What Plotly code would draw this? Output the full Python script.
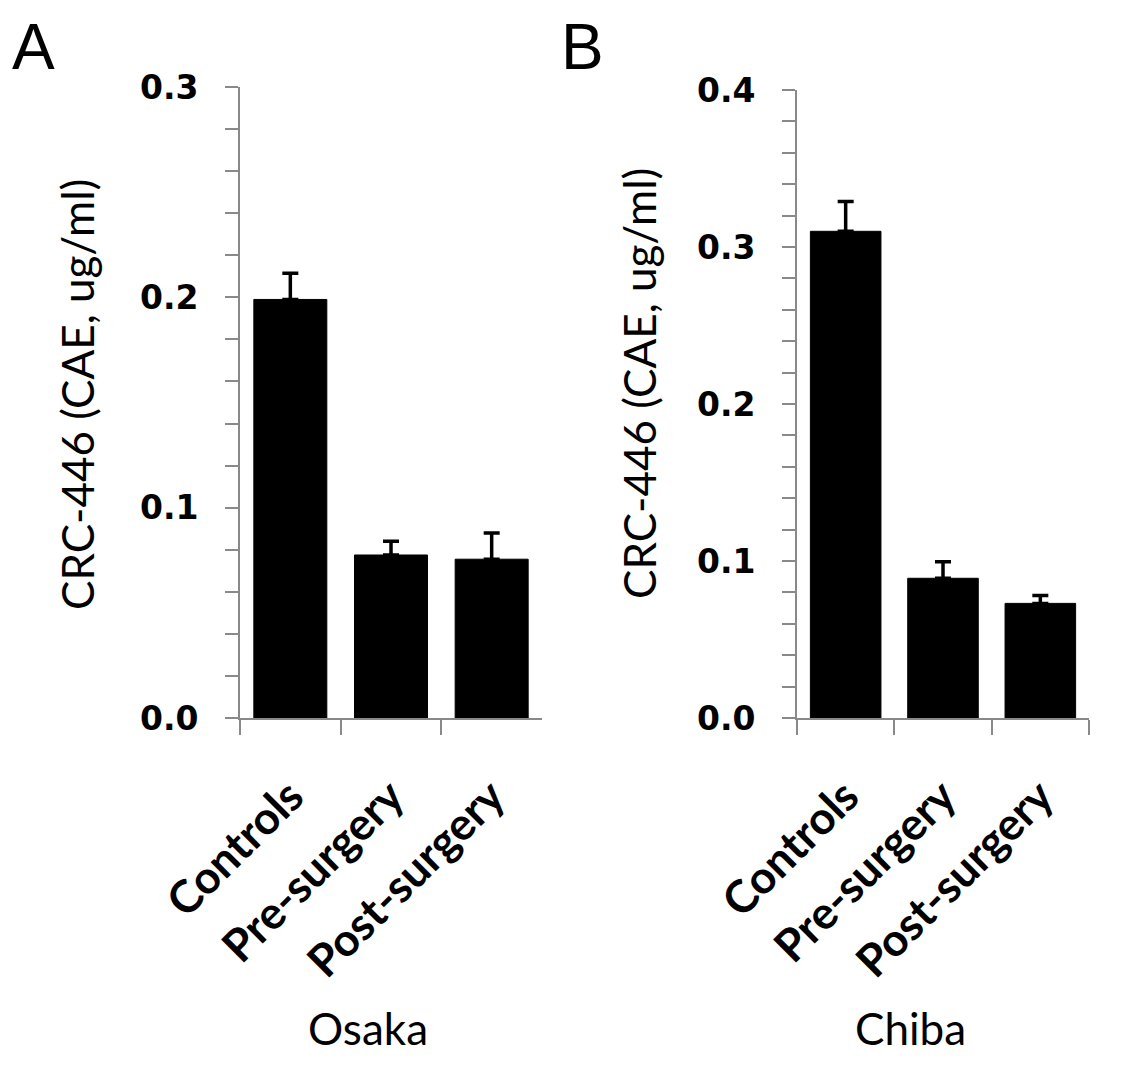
import plotly.graph_objects as go

# page body has an 8px margin; size the figure so it fills the window exactly
OFF = 8
W, H = 1121 - OFF, 1081 - OFF

categories = ["Controls", "Pre-surgery", "Post-surgery"]
osaka_values = [0.199, 0.0775, 0.0755]
osaka_errors = [0.0125, 0.0065, 0.0125]
chiba_values = [0.310, 0.089, 0.073]
chiba_errors = [0.019, 0.0105, 0.005]
osaka_ticks = [0.0, 0.1, 0.2, 0.3]
chiba_ticks = [0.0, 0.1, 0.2, 0.3, 0.4]
panel_labels = ["A", "B"]
group_labels = ["Osaka", "Chiba"]
y_title = "CRC-446 (CAE, ug/ml)"

AXIS_GRAY = "#898989"
TITLE_FONT = "Lato"

def px_x(v):
    return (v - OFF) / W

def px_y(v):
    return 1 - (v - OFF) / H

fig = go.Figure()

for i, (vals, errs) in enumerate([(osaka_values, osaka_errors), (chiba_values, chiba_errors)]):
    fig.add_trace(go.Bar(
        x=categories, y=vals,
        xaxis="x" if i == 0 else "x2",
        yaxis="y" if i == 0 else "y2",
        marker=dict(color="black", line=dict(color="black", width=1)),
        error_y=dict(type="data", array=errs, arrayminus=[0] * len(errs), symmetric=False,
                     color="black", thickness=3.5, width=8),
        showlegend=False,
    ))

xcommon = dict(
    type="category", range=[-0.5, 2.5], tickson="boundaries",
    showline=True, linecolor=AXIS_GRAY, linewidth=2,
    ticks="outside", ticklen=15, tickwidth=2, tickcolor=AXIS_GRAY,
    tickangle=-45, ticklabelstandoff=32,
    tickfont=dict(family=TITLE_FONT, size=45, color="black", weight="bold"),
    showgrid=False, zeroline=False, automargin=False,
)

def ycommon(ticks):
    return dict(
        range=[0, ticks[-1]], tickvals=ticks, ticktext=[f"{t:.1f}" for t in ticks],
        showline=True, linecolor=AXIS_GRAY, linewidth=2,
        ticks="outside", ticklen=13, tickwidth=2, tickcolor=AXIS_GRAY,
        minor=dict(dtick=0.02, ticks="outside", ticklen=13, tickwidth=2, tickcolor=AXIS_GRAY),
        tickfont=dict(family="DejaVu Sans", size=33, color="black", weight="bold"),
        ticklabelstandoff=20,
        showgrid=False, zeroline=False, automargin=False,
    )

fig.update_layout(
    width=W, height=H,
    margin=dict(l=0, r=0, t=0, b=0, autoexpand=False),
    paper_bgcolor="white", plot_bgcolor="white",
    bargap=0.275,
    xaxis=dict(xcommon, domain=[px_x(240), px_x(542)], anchor="y"),
    yaxis=dict(ycommon(osaka_ticks), domain=[px_y(718), px_y(87)], anchor="x"),
    xaxis2=dict(xcommon, domain=[px_x(797), px_x(1089)], anchor="y2"),
    yaxis2=dict(ycommon(chiba_ticks), domain=[px_y(718), px_y(90)], anchor="x2"),
)

annotations = []
# Panel letters
for lab, x in zip(panel_labels, [33, 582]):
    annotations.append(dict(text=lab, x=px_x(x), y=px_y(9), xref="paper", yref="paper",
                            showarrow=False, font=dict(family="Liberation Sans", size=64, color="black"),
                            xanchor="center", yanchor="top"))
# Group labels
for lab, x in zip(group_labels, [368, 910]):
    annotations.append(dict(text=lab, x=px_x(x), y=px_y(1028), xref="paper", yref="paper",
                            showarrow=False, font=dict(family=TITLE_FONT, size=44, color="black"),
                            xanchor="center", yanchor="middle"))
# Y titles
for x, y in [(77, 395), (639, 384)]:
    annotations.append(dict(text=y_title, x=px_x(x), y=px_y(y), xref="paper", yref="paper",
                            showarrow=False, textangle=-90,
                            font=dict(family=TITLE_FONT, size=44, color="black"),
                            xanchor="center", yanchor="middle"))
fig.update_layout(annotations=annotations)

fig.write_html("out.html")
